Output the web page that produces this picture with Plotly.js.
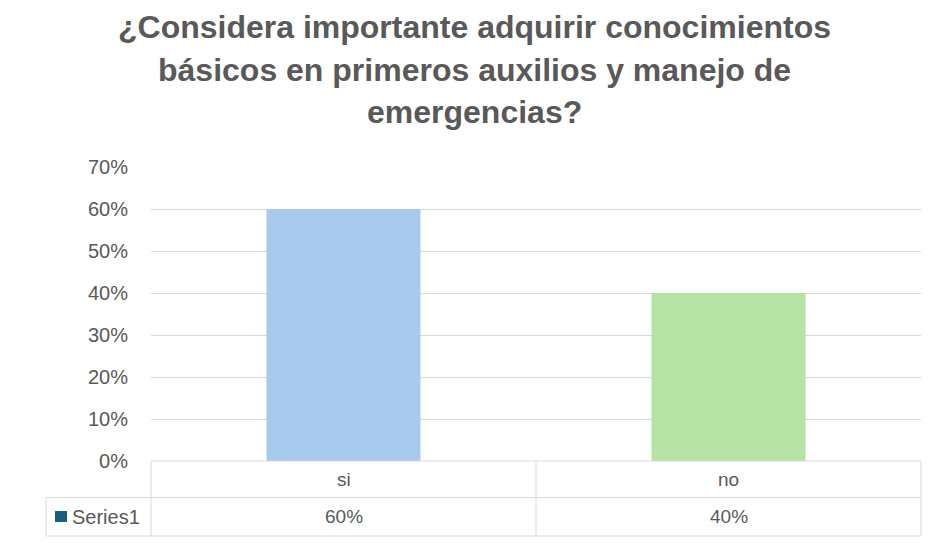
<!DOCTYPE html>
<html>
<head>
<meta charset="utf-8">
<script src="https://cdn.plot.ly/plotly-3.0.1.min.js"></script>
<style>html,body{margin:0;padding:0;background:#fff;}#chart{width:928px;height:544px;}</style>
</head>
<body>
<div id="chart"></div>
<script>
const titleLines = ["¿Considera importante adquirir conocimientos", "básicos en primeros auxilios y manejo de", "emergencias?"];
const categories = ["si", "no"];
const values = [0.60, 0.40];
const valueLabels = ["60%", "40%"];
const seriesName = "Series1";
const barColors = ["#a6c9ec", "#b4e3a3"];
const yTicks = [0, 0.1, 0.2, 0.3, 0.4, 0.5, 0.6, 0.7];
const yTickLabels = ["0%", "10%", "20%", "30%", "40%", "50%", "60%", "70%"];

const W = 928, H = 544;
const m = {l: 151, r: 7, t: 167, b: 83};
const pw = W - m.l - m.r, ph = H - m.t - m.b;
const px = x => (x - m.l) / pw;            // pixel x -> paper
const py = y => (H - m.b - y) / ph;        // pixel y -> paper

const gray = "#595959";
const lineC = "#d9d9d9";
const font = "'Liberation Sans', Arial, sans-serif";

const row1 = py(497.5), row2 = py(536), leftX = px(46);
const shapes = [
  {type:"line", xref:"paper", yref:"paper", x0:0, x1:1, y0:0, y1:0, line:{color:lineC, width:1}},
  {type:"line", xref:"paper", yref:"paper", x0:leftX, x1:1, y0:row1, y1:row1, line:{color:lineC, width:1}},
  {type:"line", xref:"paper", yref:"paper", x0:leftX, x1:1, y0:row2, y1:row2, line:{color:lineC, width:1}},
  {type:"line", xref:"paper", yref:"paper", x0:leftX, x1:leftX, y0:row1, y1:row2, line:{color:lineC, width:1}},
  {type:"line", xref:"paper", yref:"paper", x0:0, x1:0, y0:0, y1:row2, line:{color:lineC, width:1}},
  {type:"line", xref:"paper", yref:"paper", x0:0.5, x1:0.5, y0:0, y1:row2, line:{color:lineC, width:1}},
  {type:"line", xref:"paper", yref:"paper", x0:1, x1:1, y0:0, y1:row2, line:{color:lineC, width:1}},
  {type:"rect", xref:"paper", yref:"paper", x0:px(55), x1:px(67), y0:py(522), y1:py(511), line:{width:0}, fillcolor:"#156082"}
];

const annotations = [];
const titleY = [27, 70, 112];
titleLines.forEach((t, i) => annotations.push({
  text: "<b>" + t + "</b>", xref:"paper", yref:"paper", x: px(474), y: py(titleY[i]),
  xanchor:"center", yanchor:"middle", showarrow:false,
  font:{family:font, size:32, color:gray}
}));
categories.forEach((c, i) => {
  annotations.push({text:c, xref:"x", yref:"paper", x:c, y:py(479.5), xanchor:"center", yanchor:"middle",
    showarrow:false, font:{family:font, size:19, color:gray}});
  annotations.push({text:valueLabels[i], xref:"x", yref:"paper", x:c, y:py(516.5), xanchor:"center", yanchor:"middle",
    showarrow:false, font:{family:font, size:19, color:gray}});
});
annotations.push({text:seriesName, xref:"paper", yref:"paper", x:px(70), y:py(516.5), xanchor:"left", yanchor:"middle",
  showarrow:false, font:{family:font, size:20, color:gray}});

Plotly.newPlot("chart", [{
  type:"bar", x:categories, y:values, name:seriesName,
  marker:{color:barColors, line:{width:0}}, width:0.4, hoverinfo:"skip"
}], {
  width:W, height:H, margin:m, paper_bgcolor:"#fff", plot_bgcolor:"#fff",
  showlegend:false,
  xaxis:{showticklabels:false, showgrid:false, zeroline:false, showline:false, ticks:""},
  yaxis:{range:[0,0.7], tickvals:yTicks, ticktext:yTickLabels, showgrid:true, gridcolor:lineC, gridwidth:1,
    zeroline:false, showline:false, ticks:"", ticklabelstandoff:22,
    tickfont:{family:font, size:20, color:gray}},
  shapes:shapes, annotations:annotations
}, {staticPlot:true});
</script>
</body>
</html>
